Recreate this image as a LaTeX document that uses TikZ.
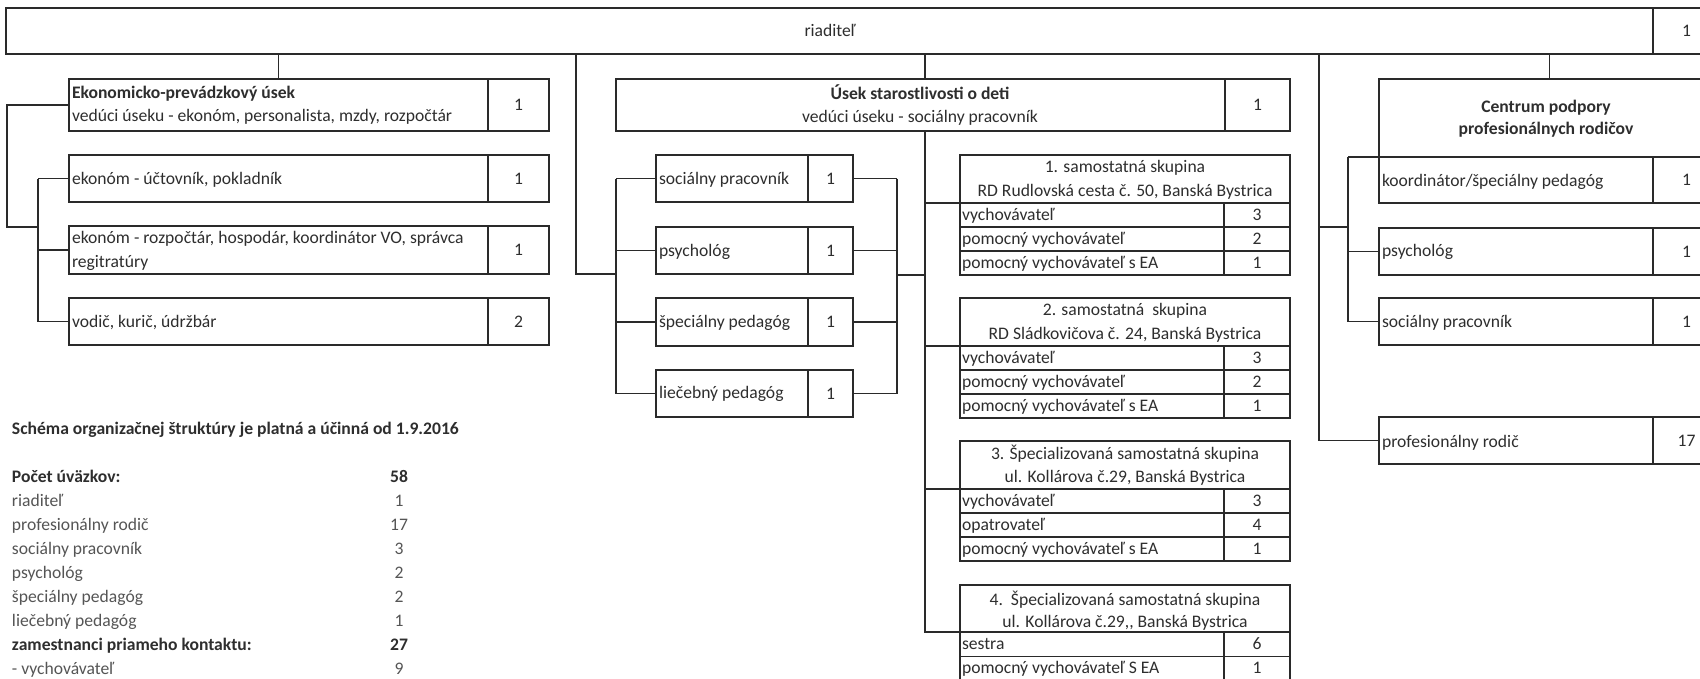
\documentclass[tikz,border=0pt]{standalone}
\usepackage{fontspec}
\setmainfont{Carlito}
\definecolor{ln}{HTML}{2A2A2A}
\definecolor{tc}{HTML}{2E2E2E}
\definecolor{tg}{HTML}{555555}
\begin{document}
\begin{tikzpicture}[x=1pt,y=-1pt,
 every node/.style={inner sep=0pt,outer sep=0pt},
 box/.style={draw=ln,line width=2.4pt,anchor=north west},
 con/.style={draw=ln,line width=1.2pt},
 rowline/.style={draw=ln,line width=1.3pt},
 tx/.style={text=tc,font=\fontsize{17.6}{22}\selectfont},
 tl/.style={tx,anchor=base west},
 tcn/.style={tx,anchor=base},
 lst/.style={text=tg,font=\fontsize{17.6}{22}\selectfont,anchor=base west},
 lsn/.style={text=tg,font=\fontsize{17.6}{22}\selectfont,anchor=base},
]
\fill[white] (0,0) rectangle (1700,678);
\useasboundingbox (0,0) rectangle (1700,678);
\clip (0,0) rectangle (1700,678);

% junction coordinates
\coordinate (lE) at (7,227);
\coordinate (jE) at (38,227);
\coordinate (aS) at (576,274);
\coordinate (jS) at (616,274);
\coordinate (rS) at (897,275);
\coordinate (mU) at (925,275);
\coordinate (vP) at (1319,227);
\coordinate (jC) at (1348,227);

% ---------- riaditel ----------
\node[box,minimum width=1647,minimum height=46] (R) at (6,8) {};
\node[box,minimum width=67,minimum height=46] (Rn) at (1653,8) {};
\node[tcn] (Rt) at (830,36.5) {riaditeľ};
\node[tx] (Rv) at (Rn.center) {1};

% ---------- Ekonomicko-prevadzkovy usek ----------
\node[box,minimum width=419,minimum height=52] (E0) at (69,79) {};
\node[box,minimum width=61,minimum height=52] (E0n) at (488,79) {};
\node[tl] (E0a) at (72,98.5) {\bfseries Ekonomicko-prevádzkový úsek};
\node[tl] (E0b) at (72,121.5) {vedúci úseku - ekonóm, personalista, mzdy, rozpočtár};
\node[tx] (E0v) at (E0n.center) {1};

\node[box,minimum width=419,minimum height=47] (E1) at (69,155) {};
\node[box,minimum width=61,minimum height=47] (E1n) at (488,155) {};
\node[tl] (E1a) at (72,184.5) {ekonóm - účtovník, pokladník};
\node[tx] (E1v) at (E1n.center) {1};

\node[box,minimum width=419,minimum height=48] (E2) at (69,226) {};
\node[box,minimum width=61,minimum height=48] (E2n) at (488,226) {};
\node[tl] (E2a) at (72,243.5) {ekonóm - rozpočtár, hospodár, koordinátor VO, správca};
\node[tl] (E2b) at (72,267.5) {regitratúry};
\node[tx] (E2v) at (E2n.center) {1};

\node[box,minimum width=419,minimum height=47] (E3) at (69,298) {};
\node[box,minimum width=61,minimum height=47] (E3n) at (488,298) {};
\node[tl] (E3a) at (72,327.5) {vodič, kurič, údržbár};
\node[tx] (E3v) at (E3n.center) {2};

\draw[con] (E0.north) -- (E0.north |- R.south);
\draw[con] (E0.west) -| (lE) -- (jE);
\draw[con] (E1.west -| jE) -- (E3.west -| jE);
\draw[con] (E1.west) -- (E1.west -| jE);
\draw[con] (E2.west) -- (E2.west -| jE);
\draw[con] (E3.west) -- (E3.west -| jE);

% ---------- Usek starostlivosti o deti ----------
\node[box,minimum width=609,minimum height=52] (U) at (616,79) {};
\node[box,minimum width=65,minimum height=52] (Un) at (1225,79) {};
\node[tcn] (Ua) at (920,99.5) {\bfseries Úsek starostlivosti o deti};
\node[tcn] (Ub) at (920,122.5) {vedúci úseku - sociálny pracovník};
\node[tx] (Uv) at (Un.center) {1};

\node[box,minimum width=152,minimum height=47] (S1) at (656,155) {};
\node[box,minimum width=45,minimum height=47] (S1n) at (808,155) {};
\node[tl] (S1a) at (659,184.5) {sociálny pracovník};
\node[tx] (S1v) at (S1n.center) {1};
\node[box,minimum width=152,minimum height=47] (S2) at (656,227) {};
\node[box,minimum width=45,minimum height=47] (S2n) at (808,227) {};
\node[tl] (S2a) at (659,256.5) {psychológ};
\node[tx] (S2v) at (S2n.center) {1};
\node[box,minimum width=152,minimum height=48] (S3) at (656,298) {};
\node[box,minimum width=45,minimum height=48] (S3n) at (808,298) {};
\node[tl] (S3a) at (659,327.5) {špeciálny pedagóg};
\node[tx] (S3v) at (S3n.center) {1};
\node[box,minimum width=152,minimum height=47] (S4) at (656,370) {};
\node[box,minimum width=45,minimum height=47] (S4n) at (808,370) {};
\node[tl] (S4a) at (659,398.5) {liečebný pedagóg};
\node[tx] (S4v) at (S4n.center) {1};

\draw[con] (aS |- R.south) -- (aS) -- (jS);
\draw[con] (S1.west -| jS) -- (S4.west -| jS);
\draw[con] (S1.west) -- (S1.west -| jS);
\draw[con] (S2.west) -- (S2.west -| jS);
\draw[con] (S3.west) -- (S3.west -| jS);
\draw[con] (S4.west) -- (S4.west -| jS);
\draw[con] (S1n.east -| rS) -- (S4n.east -| rS);
\draw[con] (S1n.east) -- (S1n.east -| rS);
\draw[con] (S2n.east) -- (S2n.east -| rS);
\draw[con] (S3n.east) -- (S3n.east -| rS);
\draw[con] (S4n.east) -- (S4n.east -| rS);
\draw[con] (rS) -- (mU);

% ---------- groups ----------
% group 1
\node[box,minimum width=330,minimum height=120] (G1) at (960,155) {};
\node[box,minimum width=330,minimum height=48] (G1h) at (960,155) {};
\node[box,minimum width=66,minimum height=72] (G1n) at (1224,203) {};
\draw[rowline] (G1h.south west |- G1n.west) ++(0,-12) -- ++(264,0);
\draw[rowline] (G1h.south west |- G1n.west) ++(0,12) -- ++(264,0);
\draw[rowline] (G1n.west) ++(0,-12) -- ++(66,0);
\draw[rowline] (G1n.west) ++(0,12) -- ++(66,0);
\node[tcn] (G1a) at (1125,172) {1. samostatná skupina};
\node[tcn] (G1b) at (1125,196.5) {RD Rudlovská cesta č. 50, Banská Bystrica};
\node[tl] (G1r1) at (962,220.5) {vychovávateľ};
\node[tl] (G1r2) at (962,244.5) {pomocný vychovávateľ};
\node[tl] (G1r3) at (962,268.5) {pomocný vychovávateľ s EA};
\node[tcn] (G1v1) at (1257,220.5) {3};
\node[tcn] (G1v2) at (1257,244.5) {2};
\node[tcn] (G1v3) at (1257,268.5) {1};
% group 2
\node[box,minimum width=330,minimum height=120] (G2) at (960,298) {};
\node[box,minimum width=330,minimum height=48] (G2h) at (960,298) {};
\node[box,minimum width=66,minimum height=72] (G2n) at (1224,346) {};
\draw[rowline] (G2h.south west |- G2n.west) ++(0,-12) -- ++(264,0);
\draw[rowline] (G2h.south west |- G2n.west) ++(0,12) -- ++(264,0);
\draw[rowline] (G2n.west) ++(0,-12) -- ++(66,0);
\draw[rowline] (G2n.west) ++(0,12) -- ++(66,0);
\node[tcn] (G2a) at (1125,315) {2. samostatná\ \ skupina};
\node[tcn] (G2b) at (1125,339.5) {RD Sládkovičova č. 24, Banská Bystrica};
\node[tl] (G2r1) at (962,363.5) {vychovávateľ};
\node[tl] (G2r2) at (962,387.5) {pomocný vychovávateľ};
\node[tl] (G2r3) at (962,411.5) {pomocný vychovávateľ s EA};
\node[tcn] (G2v1) at (1257,363.5) {3};
\node[tcn] (G2v2) at (1257,387.5) {2};
\node[tcn] (G2v3) at (1257,411.5) {1};
% group 3
\node[box,minimum width=330,minimum height=120] (G3) at (960,441) {};
\node[box,minimum width=330,minimum height=48] (G3h) at (960,441) {};
\node[box,minimum width=66,minimum height=72] (G3n) at (1224,489) {};
\draw[rowline] (G3h.south west |- G3n.west) ++(0,-12) -- ++(264,0);
\draw[rowline] (G3h.south west |- G3n.west) ++(0,12) -- ++(264,0);
\draw[rowline] (G3n.west) ++(0,-12) -- ++(66,0);
\draw[rowline] (G3n.west) ++(0,12) -- ++(66,0);
\node[tcn] (G3a) at (1125,459.5) {3. Špecializovaná samostatná skupina};
\node[tcn] (G3b) at (1125,482.5) {ul. Kollárova č.29, Banská Bystrica};
\node[tl] (G3r1) at (962,506.5) {vychovávateľ};
\node[tl] (G3r2) at (962,530.5) {opatrovateľ};
\node[tl] (G3r3) at (962,554.5) {pomocný vychovávateľ s EA};
\node[tcn] (G3v1) at (1257,506.5) {3};
\node[tcn] (G3v2) at (1257,530.5) {4};
\node[tcn] (G3v3) at (1257,554.5) {1};
% group 4
\node[box,minimum width=330,minimum height=96] (G4) at (960,585) {};
\node[box,minimum width=330,minimum height=47] (G4h) at (960,585) {};
\node[box,minimum width=66,minimum height=49] (G4n) at (1224,632) {};
\draw[rowline] (G4h.south west |- G4n.west) ++(0,0) -- ++(264,0);
\draw[rowline] (G4n.west) -- ++(66,0);
\node[tcn] (G4a) at (1125,605.5) {4.\ \ Špecializovaná samostatná skupina};
\node[tcn] (G4b) at (1125,627.5) {ul. Kollárova č.29,\kern0pt, Banská Bystrica};
\node[tl] (G4r1) at (962,649.5) {sestra};
\node[tl] (G4r2) at (962,673.5) {pomocný vychovávateľ S EA};
\node[tcn] (G4v1) at (1257,649.5) {6};
\node[tcn] (G4v2) at (1257,673.5) {1};

\draw[con] (U.south -| mU) -- (G4h.south west -| mU) -- (G4h.south west);
\draw[con] (U.north -| mU) -- (R.south -| mU);
\draw[con] (G1h.south west) -- (G1h.south west -| mU);
\draw[con] (G2h.south west) -- (G2h.south west -| mU);
\draw[con] (G3h.south west) -- (G3h.south west -| mU);

% ---------- Centrum podpory ----------
\node[box,minimum width=341,minimum height=78] (C) at (1379,79) {};
\node[tcn] (Ca) at (1546,112.5) {\bfseries Centrum podpory};
\node[tcn] (Cb) at (1546,134.5) {\bfseries profesionálnych rodičov};

\node[box,minimum width=274,minimum height=46] (K) at (1379,157) {};
\node[box,minimum width=67,minimum height=46] (Kn) at (1653,157) {};
\node[tl] (Ka) at (1382,186.5) {koordinátor/špeciálny pedagóg};
\node[tx] (Kv) at (Kn.center) {1};
\node[box,minimum width=274,minimum height=47] (Ps) at (1379,228) {};
\node[box,minimum width=67,minimum height=47] (Psn) at (1653,228) {};
\node[tl] (Psa) at (1382,256.5) {psychológ};
\node[tx] (Psv) at (Psn.center) {1};
\node[box,minimum width=274,minimum height=47] (So) at (1379,298) {};
\node[box,minimum width=67,minimum height=47] (Son) at (1653,298) {};
\node[tl] (Soa) at (1382,327.5) {sociálny pracovník};
\node[tx] (Sov) at (Son.center) {1};
\node[box,minimum width=274,minimum height=47] (P) at (1379,417) {};
\node[box,minimum width=67,minimum height=47] (Pn) at (1653,417) {};
\node[tl] (Pa) at (1382,447.5) {profesionálny rodič};
\node[tx] (Pv) at (Pn.center) {17};

\draw[con] (C.north) -- (C.north |- R.south);
\draw[con] (vP |- R.south) -- (vP |- P.west) -- (P.west);
\draw[con] (vP) -- (jC);
\draw[con] (K.north west -| jC) -- (So.west -| jC);
\draw[con] (K.north west) -- (K.north west -| jC);
\draw[con] (Ps.west) -- (Ps.west -| jC);
\draw[con] (So.west) -- (So.west -| jC);

% ---------- notes ----------
\node[tl] (N0) at (12,434.5) {\bfseries Schéma organizačnej štruktúry je platná a účinná od 1.9.2016};
\node[tl] (L1) at (12,482.5) {\bfseries Počet úväzkov:};
\node[tcn] (L1v) at (399,482.5) {\bfseries 58};
\node[lst] (L2) at (12,506.5) {riaditeľ};
\node[lsn] (L2v) at (399,506.5) {1};
\node[lst] (L3) at (12,530.5) {profesionálny rodič};
\node[lsn] (L3v) at (399,530.5) {17};
\node[lst] (L4) at (12,554.5) {sociálny pracovník};
\node[lsn] (L4v) at (399,554.5) {3};
\node[lst] (L5) at (12,578.5) {psychológ};
\node[lsn] (L5v) at (399,578.5) {2};
\node[lst] (L6) at (12,602.5) {špeciálny pedagóg};
\node[lsn] (L6v) at (399,602.5) {2};
\node[lst] (L7) at (12,626.5) {liečebný pedagóg};
\node[lsn] (L7v) at (399,626.5) {1};
\node[tl] (L8) at (12,650.5) {\bfseries zamestnanci priameho kontaktu:};
\node[tcn] (L8v) at (399,650.5) {\bfseries 27};
\node[lst] (L9) at (12,674.5) {- vychovávateľ};
\node[lsn] (L9v) at (399,674.5) {9};
\end{tikzpicture}
\end{document}
